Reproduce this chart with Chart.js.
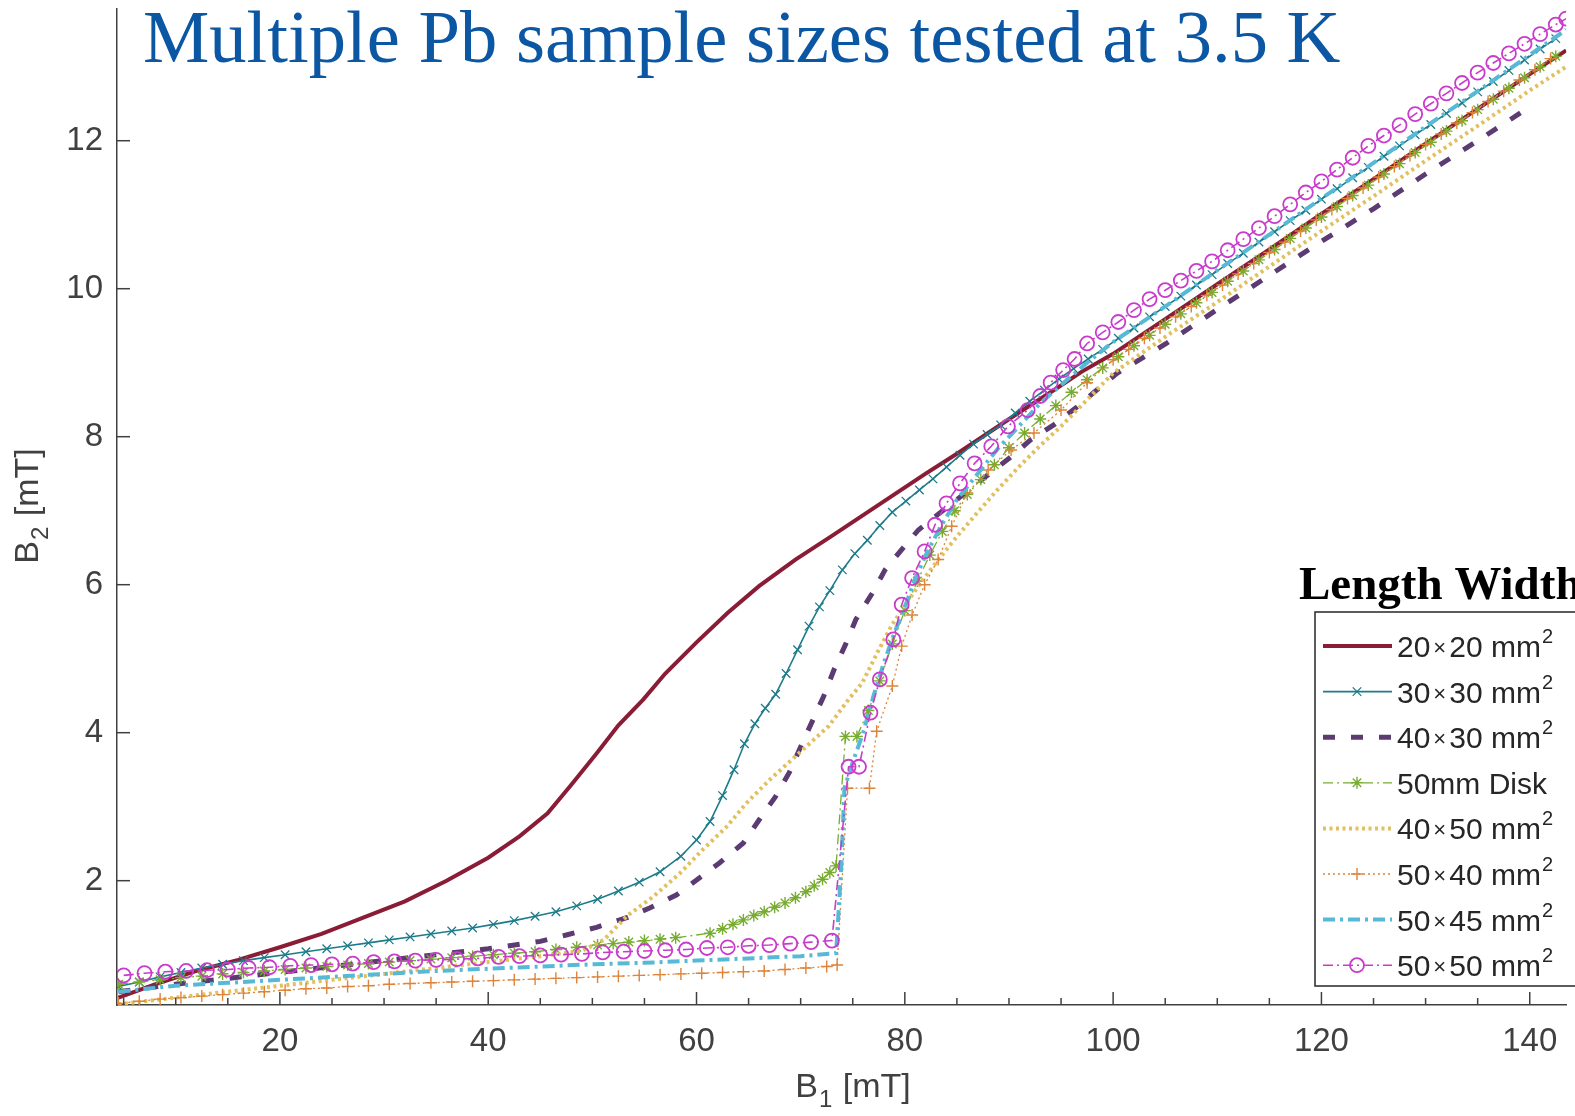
<!DOCTYPE html>
<html>
<head>
<meta charset="utf-8">
<title>Multiple Pb sample sizes tested at 3.5 K</title>
<script src="https://cdn.jsdelivr.net/npm/chart.js@4.4.1/dist/chart.umd.min.js"></script>
<style>
  html, body { margin: 0; padding: 0; background: #fff; }
  #wrap { position: relative; width: 1575px; height: 1116px; }
</style>
</head>
<body>
<div id="wrap"><canvas id="grafico"></canvas></div>
<script>
// B1 / B2 readings in mT, one pair of arrays per sample
var etiquetas = ['20×20 mm²', '30×30 mm²', '40×30 mm²', '50mm Disk', '40×50 mm²', '50×40 mm²', '50×45 mm²', '50×50 mm²'];
var xTicks = [20, 40, 60, 80, 100, 120, 140];
var yTicks = [2, 4, 6, 8, 10, 12];

var b1_20x20 = [4.5, 8, 12, 16, 20, 24, 28, 32, 36, 40, 43, 45.7, 48, 50.4, 52.5, 54.9, 57, 60, 63, 66, 69.5, 73, 76, 79, 82, 85, 88, 91, 94, 97, 100, 105, 110, 115, 120, 125, 130, 135, 140, 143.5];
var b2_20x20 = [0.42, 0.6, 0.78, 0.93, 1.1, 1.28, 1.5, 1.72, 2.0, 2.31, 2.6, 2.91, 3.3, 3.72, 4.1, 4.45, 4.8, 5.22, 5.62, 5.98, 6.34, 6.66, 6.94, 7.22, 7.5, 7.77, 8.05, 8.33, 8.6, 8.88, 9.12, 9.59, 10.06, 10.53, 11.01, 11.48, 11.96, 12.43, 12.9, 13.22];

var b1_30x30 = [4.5, 6.5, 8.5, 10.5, 12.5, 14.5, 16.5, 18.5, 20.5, 22.5, 24.5, 26.5, 28.5, 30.5, 32.5, 34.5, 36.5, 38.5, 40.5, 42.5, 44.5, 46.5, 48.5, 50.5, 52.5, 54.5, 56.5, 58.5, 60, 61.3, 62.5, 63.6, 64.6, 65.6, 66.6, 67.6, 68.6, 69.7, 70.8, 71.8, 72.8, 74, 75.2, 76.4, 77.6, 78.8, 80.1, 81.4, 82.7, 84, 85.3, 86.6, 87.9, 89.2, 90.6, 92, 93.4, 94.8, 96.2, 97.6, 99, 100.5, 102, 103.5, 105, 106.5, 108, 109.5, 111, 112.5, 114, 115.5, 117, 118.5, 120, 121.5, 123, 124.5, 126, 127.5, 129, 130.5, 132, 133.5, 135, 136.5, 138, 139.5, 141, 142.5];
var b2_30x30 = [0.57, 0.63, 0.7, 0.76, 0.82, 0.87, 0.92, 0.96, 1.0, 1.04, 1.08, 1.12, 1.16, 1.2, 1.24, 1.28, 1.32, 1.36, 1.41, 1.46, 1.52, 1.58, 1.66, 1.75, 1.86, 1.98, 2.12, 2.33, 2.55, 2.8, 3.15, 3.5, 3.85, 4.12, 4.33, 4.52, 4.8, 5.12, 5.44, 5.7, 5.92, 6.2, 6.42, 6.6, 6.8, 6.98, 7.13, 7.28, 7.43, 7.59, 7.75, 7.9, 8.03, 8.16, 8.32, 8.48, 8.63, 8.78, 8.92, 9.05, 9.18, 9.33, 9.47, 9.62, 9.76, 9.9, 10.05, 10.19, 10.34, 10.48, 10.63, 10.77, 10.92, 11.06, 11.21, 11.35, 11.5, 11.64, 11.79, 11.93, 12.08, 12.22, 12.37, 12.51, 12.66, 12.8, 12.95, 13.09, 13.24, 13.38];

var b1_40x30 = [4.5, 10, 15, 20, 25, 30, 35, 40, 45, 47.6, 50.4, 53.3, 55.5, 58.1, 60.3, 62.2, 64.5, 66, 67.6, 68.9, 70, 71.1, 72.2, 73.2, 74.3, 75.3, 76.9, 78.1, 79.5, 81.3, 83, 85, 87.5, 90.2, 92.1, 94.3, 96.5, 98.5, 100.4, 105.1, 110, 115, 120, 125, 130, 135, 139.6];
var b2_40x30 = [0.5, 0.6, 0.68, 0.76, 0.84, 0.92, 1.0, 1.08, 1.18, 1.27, 1.37, 1.5, 1.63, 1.81, 2.04, 2.24, 2.51, 2.82, 3.14, 3.46, 3.81, 4.15, 4.49, 4.85, 5.19, 5.53, 5.89, 6.2, 6.44, 6.74, 6.93, 7.15, 7.43, 7.73, 7.96, 8.16, 8.4, 8.64, 8.86, 9.26, 9.72, 10.18, 10.64, 11.08, 11.55, 12.0, 12.42];

var b1_disk = [4.5, 6.5, 8.5, 10.5, 12.5, 14.5, 16.5, 18.5, 20.5, 22.5, 24.5, 26.5, 28.5, 30.5, 32.5, 34.5, 36.5, 38.5, 40.5, 42.5, 44.5, 46.5, 48.5, 50.5, 52, 53.5, 55, 56.5, 58, 61.3, 62.5, 63.5, 64.5, 65.5, 66.5, 67.5, 68.5, 69.5, 70.5, 71.3, 72.1, 72.8, 73.4, 74.3, 75.4, 76.5, 77.6, 78.8, 80, 81.2, 82.4, 83.6, 84.8, 86, 87.3, 88.6, 90, 91.5, 93, 94.5, 96, 97.5, 99, 100.5, 102, 103.5, 105, 106.5, 108, 109.5, 111, 112.5, 114, 115.5, 117, 118.5, 120, 121.5, 123, 124.5, 126, 127.5, 129, 130.5, 132, 133.5, 135, 136.5, 138, 139.5, 141, 142.5];
var b2_disk = [0.6, 0.63, 0.66, 0.69, 0.71, 0.74, 0.76, 0.78, 0.8, 0.82, 0.84, 0.86, 0.88, 0.9, 0.92, 0.94, 0.96, 0.98, 1.0, 1.02, 1.04, 1.07, 1.1, 1.13, 1.15, 1.17, 1.19, 1.21, 1.23, 1.29, 1.35, 1.41, 1.47, 1.53, 1.58, 1.64, 1.7, 1.77, 1.85, 1.93, 2.02, 2.11, 2.2, 3.95, 3.95, 4.3, 4.7, 5.2, 5.65, 6.05, 6.4, 6.72, 7.0, 7.22, 7.42, 7.62, 7.85, 8.05, 8.24, 8.42, 8.6, 8.77, 8.93, 9.08, 9.23, 9.37, 9.52, 9.66, 9.81, 9.95, 10.1, 10.24, 10.39, 10.53, 10.68, 10.82, 10.97, 11.11, 11.26, 11.4, 11.55, 11.69, 11.84, 11.98, 12.13, 12.27, 12.42, 12.56, 12.71, 12.85, 13.0, 13.14];

var b1_40x50 = [4.5, 10, 15, 20, 25, 30, 35, 40, 45, 49, 51.1, 53.3, 55.9, 58.4, 60.6, 62.9, 64.8, 67, 69.5, 72.7, 74.6, 75.9, 77.5, 78.7, 80, 81.5, 83, 85, 87, 89, 91, 93, 95, 97.5, 100, 105, 110, 115, 120, 125, 130, 135, 140, 143.5];
var b2_40x50 = [0.33, 0.42, 0.5, 0.58, 0.66, 0.74, 0.82, 0.9, 0.98, 1.05, 1.2, 1.52, 1.79, 2.1, 2.42, 2.73, 3.05, 3.36, 3.68, 4.09, 4.45, 4.67, 5.12, 5.44, 5.72, 6.02, 6.3, 6.65, 6.98, 7.3, 7.6, 7.88, 8.14, 8.5, 8.86, 9.35, 9.82, 10.3, 10.78, 11.25, 11.73, 12.2, 12.68, 13.0];

var b1_50x40 = [4.5, 6.5, 8.5, 10.5, 12.5, 14.5, 16.5, 18.5, 20.5, 22.5, 24.5, 26.5, 28.5, 30.5, 32.5, 34.5, 36.5, 38.5, 40.5, 42.5, 44.5, 46.5, 48.5, 50.5, 52.5, 54.5, 56.5, 58.5, 60.5, 62.5, 64.5, 66.5, 68.5, 70.5, 72.5, 73.5, 74.5, 76.6, 77.3, 78.8, 79.7, 80.7, 81.9, 83.2, 84.5, 86, 88, 90.2, 92.4, 95, 97.5, 100, 101.5, 103, 104.5, 106, 107.5, 109, 110.5, 112, 113.5, 115, 116.5, 118, 119.5, 121, 122.5, 124, 125.5, 127, 128.5, 130, 131.5, 133, 134.5, 136, 137.5, 139, 140.5, 142];
var b2_50x40 = [0.34, 0.37, 0.4, 0.42, 0.44, 0.46, 0.48, 0.5, 0.52, 0.54, 0.55, 0.57, 0.58, 0.6, 0.61, 0.62, 0.63, 0.64, 0.65, 0.66, 0.67, 0.68, 0.69, 0.7, 0.71, 0.72, 0.73, 0.74, 0.75, 0.76, 0.77, 0.78, 0.8, 0.82, 0.84, 0.86, 3.25, 3.25, 4.02, 4.63, 5.17, 5.59, 6.0, 6.34, 6.79, 7.24, 7.55, 7.82, 8.05, 8.36, 8.73, 9.04, 9.18, 9.33, 9.47, 9.62, 9.76, 9.91, 10.05, 10.2, 10.34, 10.49, 10.63, 10.78, 10.93, 11.07, 11.22, 11.36, 11.51, 11.65, 11.8, 11.95, 12.09, 12.24, 12.38, 12.53, 12.67, 12.82, 12.96, 13.11];

var b1_50x45 = [4.5, 10, 15, 20, 25, 30, 35, 40, 45, 50, 55, 60, 65, 70, 73.4, 73.9, 74.2, 75, 76, 77, 78, 79, 80, 81, 82, 83.5, 85, 87, 89, 91, 93, 95, 97.5, 100, 105, 110, 115, 120, 125, 130, 135, 140, 143.5];
var b2_50x45 = [0.5, 0.58, 0.62, 0.66, 0.7, 0.74, 0.78, 0.81, 0.84, 0.87, 0.89, 0.92, 0.95, 0.98, 1.02, 2.2, 3.25, 3.6, 4.0, 4.5, 4.95, 5.35, 5.7, 6.08, 6.4, 6.8, 7.15, 7.5, 7.85, 8.15, 8.45, 8.7, 9.0, 9.28, 9.76, 10.25, 10.73, 11.22, 11.7, 12.19, 12.67, 13.16, 13.5];

var b1_50x50 = [5, 7, 9, 11, 13, 15, 17, 19, 21, 23, 25, 27, 29, 31, 33, 35, 37, 39, 41, 43, 45, 47, 49, 51, 53, 55, 57, 59, 61, 63, 65, 67, 69, 71, 73, 74.6, 75.6, 76.7, 77.6, 78.9, 79.7, 80.7, 81.9, 82.9, 84, 85.3, 86.7, 88.3, 89.9, 91.8, 93, 94, 95.2, 96.3, 97.5, 99, 100.5, 102, 103.5, 105, 106.5, 108, 109.5, 111, 112.5, 114, 115.5, 117, 118.5, 120, 121.5, 123, 124.5, 126, 127.5, 129, 130.5, 132, 133.5, 135, 136.5, 138, 139.5, 141, 142.5, 143.5];
var b2_50x50 = [0.72, 0.75, 0.77, 0.78, 0.79, 0.8, 0.82, 0.83, 0.85, 0.86, 0.87, 0.88, 0.9, 0.91, 0.92, 0.93, 0.94, 0.95, 0.97, 0.98, 0.99, 1.0, 1.01, 1.03, 1.04, 1.05, 1.06, 1.07, 1.09, 1.1, 1.12, 1.13, 1.15, 1.17, 1.19, 3.54, 3.54, 4.27, 4.72, 5.26, 5.73, 6.09, 6.45, 6.81, 7.1, 7.37, 7.64, 7.87, 8.14, 8.36, 8.55, 8.73, 8.9, 9.05, 9.26, 9.41, 9.55, 9.71, 9.86, 9.98, 10.11, 10.24, 10.37, 10.52, 10.67, 10.82, 10.98, 11.14, 11.3, 11.45, 11.61, 11.77, 11.93, 12.07, 12.21, 12.36, 12.5, 12.64, 12.78, 12.92, 13.05, 13.18, 13.31, 13.44, 13.57, 13.65];

function pares(xs, ys) {
    return xs.map(function (x, i) { return { x: x, y: ys[i] }; });
}

// look of each curve (MATLAB-like line specs)
var estilos = [
    { color: '#8A1C36', ancho: 4,   dash: [],             punto: false,      radio: 0, borde: 0 },
    { color: '#1D7B8A', ancho: 1.6, dash: [],             punto: 'crossRot', radio: 6, borde: 1.3 },
    { color: '#5C3A72', ancho: 5,   dash: [12, 16],       punto: false,      radio: 0, borde: 0 },
    { color: '#77AC30', ancho: 1.3, dash: [10, 4, 2, 4],  punto: 'star',     radio: 6, borde: 1.4 },
    { color: '#E2C060', ancho: 4,   dash: [3, 3.5],       punto: false,      radio: 0, borde: 0 },
    { color: '#DE8338', ancho: 1.3, dash: [2, 3],         punto: 'cross',    radio: 6, borde: 1.4 },
    { color: '#58B9D6', ancho: 4,   dash: [12, 5, 3, 5],  punto: false,      radio: 0, borde: 0 },
    { color: '#C93BCB', ancho: 1.6, dash: [10, 4, 2, 4],  punto: 'circle',   radio: 7, borde: 1.8 }
];
var datos = [
    pares(b1_20x20, b2_20x20), pares(b1_30x30, b2_30x30), pares(b1_40x30, b2_40x30),
    pares(b1_disk, b2_disk), pares(b1_40x50, b2_40x50), pares(b1_50x40, b2_50x40),
    pares(b1_50x45, b2_50x45), pares(b1_50x50, b2_50x50)
];

var datasets = datos.map(function (d, i) {
    var e = estilos[i];
    return {
        label: etiquetas[i],
        data: d,
        borderColor: e.color,
        borderWidth: e.ancho,
        borderDash: e.dash,
        fill: false,
        tension: 0,
        pointStyle: e.punto || 'circle',
        pointRadius: e.radio,
        pointBorderWidth: e.borde,
        pointBorderColor: e.color,
        pointBackgroundColor: 'rgba(0,0,0,0)',
        order: 8 - i
    };
});

var GRIS = '#404040';
var SANS = '"Liberation Sans", Arial, sans-serif';
var SERIF = '"Liberation Serif", "Times New Roman", serif';

function marca(ctx, estilo, x, y, r) {
    var d = r * Math.SQRT1_2;
    ctx.beginPath();
    if (estilo === 'circle') {
        ctx.arc(x, y, r, 0, Math.PI * 2);
    }
    if (estilo === 'cross' || estilo === 'star') {
        ctx.moveTo(x - r, y); ctx.lineTo(x + r, y);
        ctx.moveTo(x, y - r); ctx.lineTo(x, y + r);
    }
    if (estilo === 'crossRot' || estilo === 'star') {
        ctx.moveTo(x - d, y - d); ctx.lineTo(x + d, y + d);
        ctx.moveTo(x - d, y + d); ctx.lineTo(x + d, y - d);
    }
    ctx.stroke();
}

// text with small "×" and a raised "²"
function textoRico(ctx, str, x, y) {
    var cx = x, buf = '';
    function vaciar() {
        if (!buf) return;
        ctx.font = '30px ' + SANS;
        ctx.fillText(buf, cx, y);
        cx += ctx.measureText(buf).width;
        buf = '';
    }
    for (var i = 0; i < str.length; i++) {
        var ch = str[i];
        if (ch === '×') {
            vaciar();
            ctx.font = '22px ' + SANS;
            cx += 3;
            ctx.fillText('×', cx, y - 2);
            cx += ctx.measureText('×').width + 3;
        } else if (ch === '²') {
            vaciar();
            ctx.font = '20px ' + SANS;
            ctx.fillText('2', cx + 1, y - 14);
            cx += ctx.measureText('2').width + 1;
        } else {
            buf += ch;
        }
    }
    vaciar();
}

function conSubindice(ctx, base, sub, resto) {
    ctx.font = '34px ' + SANS;
    var w1 = ctx.measureText(base).width;
    var w3 = ctx.measureText(resto).width;
    ctx.font = '24px ' + SANS;
    var w2 = ctx.measureText(sub).width;
    var x0 = -(w1 + w2 + w3) / 2;
    ctx.font = '34px ' + SANS;
    ctx.fillText(base, x0, 0);
    ctx.font = '24px ' + SANS;
    ctx.fillText(sub, x0 + w1 + 1, 10);
    ctx.font = '34px ' + SANS;
    ctx.fillText(resto, x0 + w1 + w2 + 2, 0);
}

var extras = {
    id: 'extras',
    afterDraw: function (chart) {
        var ctx = chart.ctx, a = chart.chartArea;
        var sx = chart.scales.x, sy = chart.scales.y;
        ctx.save();

        // inward ticks
        ctx.strokeStyle = GRIS;
        ctx.lineWidth = 1.5;
        ctx.setLineDash([]);
        for (var v = 5; v <= sx.max; v += 5) {
            var px = sx.getPixelForValue(v);
            var largo = xTicks.indexOf(v) >= 0 ? 13 : 7;
            ctx.beginPath(); ctx.moveTo(px, a.bottom); ctx.lineTo(px, a.bottom - largo); ctx.stroke();
        }
        yTicks.forEach(function (t) {
            var py = sy.getPixelForValue(t);
            ctx.beginPath(); ctx.moveTo(a.left, py); ctx.lineTo(a.left + 13, py); ctx.stroke();
        });

        // axis titles
        ctx.fillStyle = GRIS;
        ctx.textAlign = 'left';
        ctx.textBaseline = 'alphabetic';
        ctx.save();
        ctx.translate(852, 1097);
        conSubindice(ctx, 'B', '1', ' [mT]');
        ctx.restore();
        ctx.save();
        ctx.translate(38, 507);
        ctx.rotate(-Math.PI / 2);
        conSubindice(ctx, 'B', '2', ' [mT]');
        ctx.restore();

        // legend
        var lx = 1315, ly = 612, lh = 374;
        ctx.fillStyle = '#fff';
        ctx.fillRect(lx, ly, 300, lh);
        ctx.strokeStyle = '#262626';
        ctx.lineWidth = 1.5;
        ctx.strokeRect(lx, ly, 300, lh);
        chart.data.datasets.forEach(function (ds, i) {
            var e = estilos[i];
            var ry = 646 + i * 45.6;
            ctx.strokeStyle = e.color;
            ctx.lineWidth = e.ancho;
            ctx.setLineDash(e.dash);
            ctx.beginPath(); ctx.moveTo(1323, ry); ctx.lineTo(1392, ry); ctx.stroke();
            ctx.setLineDash([]);
            if (e.punto) {
                ctx.lineWidth = e.borde;
                marca(ctx, e.punto, 1357, ry, e.radio);
            }
            ctx.fillStyle = '#262626';
            textoRico(ctx, ds.label, 1397, ry + 11);
        });
        ctx.fillStyle = '#000';
        ctx.font = 'bold 47px ' + SERIF;
        ctx.fillText('Length Width', 1299, 599);

        // slide title
        ctx.fillStyle = '#0B57A4';
        ctx.font = '74.6px ' + SERIF;
        ctx.fillText('Multiple Pb sample sizes tested at 3.5 K', 143, 62);
        ctx.restore();
    }
};

Chart.defaults.font.family = SANS;

var ctx = document.getElementById('grafico').getContext('2d');
var grafico = new Chart(ctx, {
    type: 'line',
    data: { datasets: datasets },
    options: {
        responsive: true,
        maintainAspectRatio: false,
        animation: false,
        events: [],
        layout: { padding: { top: 9, right: 0, left: 0, bottom: 0 } },
        plugins: { legend: { display: false }, tooltip: { enabled: false } },
        scales: {
            x: {
                type: 'linear',
                min: 4.36,
                max: 143.5,
                afterBuildTicks: function (s) { s.ticks = xTicks.map(function (v) { return { value: v }; }); },
                afterFit: function (s) { s.height = 111; s.paddingLeft = 0; s.paddingRight = 0; },
                grid: { display: false, drawTicks: false },
                border: { display: true, color: GRIS, width: 1.5 },
                ticks: { font: { size: 33 }, color: GRIS, padding: 17, maxRotation: 0, autoSkip: false }
            },
            y: {
                type: 'linear',
                min: 0.32,
                max: 13.78,
                afterBuildTicks: function (s) { s.ticks = yTicks.map(function (v) { return { value: v }; }); },
                afterFit: function (s) { s.width = 117; s.paddingTop = 0; s.paddingBottom = 0; },
                grid: { display: false, drawTicks: false },
                border: { display: true, color: GRIS, width: 1.5 },
                ticks: { font: { size: 33 }, color: GRIS, padding: 14, autoSkip: false }
            }
        }
    },
    plugins: [extras]
});
</script>
</body>
</html>
